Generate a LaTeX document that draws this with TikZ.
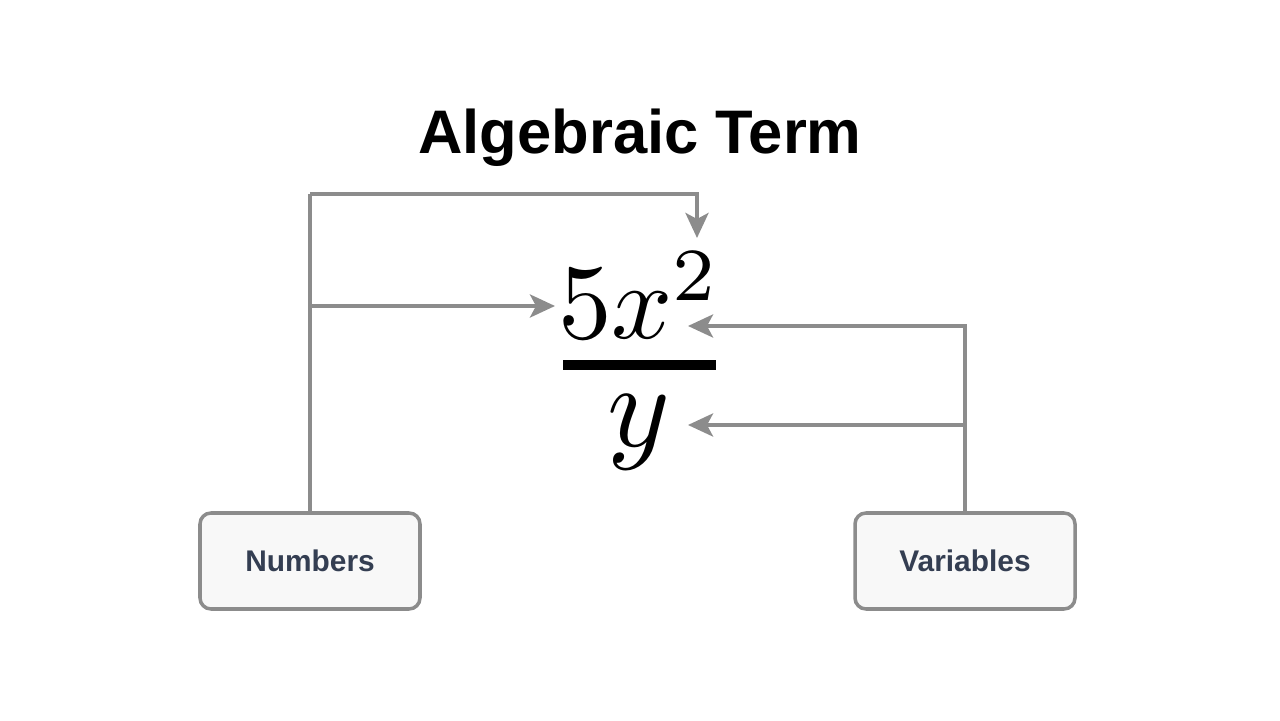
\documentclass[tikz,border=0pt]{standalone}
\usepackage{fontspec}
\setmainfont{Liberation Sans}
\usepackage{tikz}
\usetikzlibrary{arrows.meta}
\definecolor{linegray}{HTML}{8C8C8C}
\definecolor{boxfill}{HTML}{F8F8F8}
\definecolor{labeltext}{HTML}{343E52}
\tikzset{
  arrow/.style={draw=linegray,line width=2.3pt,-{Stealth[length=0.5cm,width=0.46cm,inset=0.12cm]}},
  link/.style={draw=linegray,line width=2.3pt},
  box/.style={draw=linegray,line width=2pt,fill=boxfill,rounded corners=0.22cm,
    minimum width=4.4cm,minimum height=1.92cm,font=\fontsize{17}{20}\selectfont\bfseries,
    text=labeltext,name=#1}
}

\begin{document}
\begin{tikzpicture}
    \useasboundingbox (0,0) rectangle (25.6,14.4);

    \node (title) at (12.8,11.64) {\fontsize{35}{40}\selectfont\bfseries Algebraic Term};

    \node [anchor=base, inner sep=0pt] (num) at (12.79,7.62) {\scalebox{6.1}{$5x^2$}};
    \node [inner sep=0pt] (den) at (12.78,5.76) {\scalebox{6.8}{$y$}};
    \coordinate (barL) at (11.26,7.1);
    \coordinate (barR) at (14.32,7.1);
    \draw [line width=0.2cm] (barL) -- (barR);

    \node [box=Numbers] at (6.2,3.18) {Numbers};
    \node [box=Variables] at (19.3,3.18) {Variables};

    \coordinate (bendL) at (6.2,10.52);
    \coordinate (jL) at (6.2,8.28);
    \coordinate (jR) at (19.3,5.9);
    \coordinate (t1) at (13.94,9.64);
    \coordinate (t2) at (11.1,8.28);
    \coordinate (t3) at (13.76,7.88);
    \coordinate (t4) at (13.76,5.9);

    \draw [link] (Numbers.north) -- (bendL);
    \draw [arrow] (bendL) -| (t1);
    \draw [arrow] (jL) -- (t2);
    \draw [arrow] (Variables.north) |- (t3);
    \draw [arrow] (jR) -- (t4);
\end{tikzpicture}
\end{document}
